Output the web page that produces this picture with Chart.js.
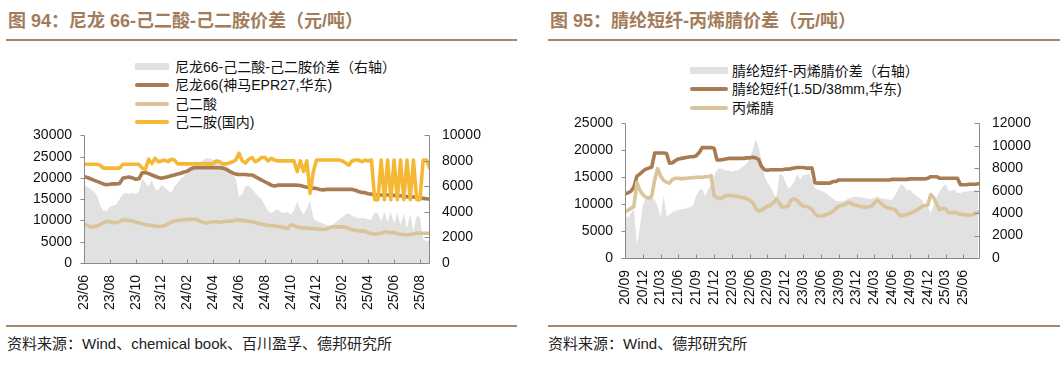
<!DOCTYPE html>
<html><head><meta charset="utf-8">
<script src="https://cdn.jsdelivr.net/npm/chart.js@4.4.1/dist/chart.umd.min.js"></script>
<style>
html,body{margin:0;padding:0;background:#fff;}
body{width:1063px;height:366px;position:relative;overflow:hidden;font-family:"Liberation Sans","Noto Sans CJK SC",sans-serif;}
.abs{position:absolute;white-space:nowrap;}
.title{font-size:18px;font-weight:bold;color:#a27c5b;line-height:22px;}
.rule{position:absolute;height:2px;background:#a88868;}
.leg{font-size:14px;color:#111;line-height:18px;}
.sw{position:absolute;}
.src{font-size:15px;color:#222;line-height:18px;}
canvas{position:absolute;}
</style></head>
<body>
<div class="abs title" style="left:8px;top:10px">图 94：尼龙 66-己二酸-己二胺价差（元/吨）</div>
<div class="rule" style="left:6px;top:39px;width:511px"></div>
<div class="abs title" style="left:550px;top:10px">图 95：腈纶短纤-丙烯腈价差（元/吨）</div>
<div class="rule" style="left:548px;top:39px;width:512px"></div>

<div class="sw" style="left:135px;top:63px;width:34px;height:7px;background:#e1e1e1"></div>
<div class="abs leg" style="left:175px;top:58px">尼龙66-己二酸-己二胺价差（右轴）</div>
<div class="sw" style="left:135px;top:83px;width:34px;height:4px;border-radius:2px;background:#a87c53"></div>
<div class="abs leg" style="left:175px;top:76px">尼龙66(神马EPR27,华东)</div>
<div class="sw" style="left:135px;top:102px;width:34px;height:4px;border-radius:2px;background:#d9c49b"></div>
<div class="abs leg" style="left:175px;top:95px">己二酸</div>
<div class="sw" style="left:135px;top:120px;width:34px;height:4px;border-radius:2px;background:#f5b835"></div>
<div class="abs leg" style="left:175px;top:113px">己二胺(国内)</div>

<div class="sw" style="left:690px;top:67px;width:38px;height:7px;background:#e1e1e1"></div>
<div class="abs leg" style="left:732px;top:62px">腈纶短纤-丙烯腈价差（右轴）</div>
<div class="sw" style="left:690px;top:87px;width:38px;height:4px;border-radius:2px;background:#a87c53"></div>
<div class="abs leg" style="left:732px;top:80px">腈纶短纤(1.5D/38mm,华东)</div>
<div class="sw" style="left:690px;top:106px;width:38px;height:4px;border-radius:2px;background:#d9c49b"></div>
<div class="abs leg" style="left:732px;top:99px">丙烯腈</div>

<canvas id="c1" width="520" height="205" style="left:0px;top:115px"></canvas>
<canvas id="c2" width="533" height="210" style="left:530px;top:103px"></canvas>

<div class="rule" style="left:6px;top:325px;width:511px"></div>
<div class="rule" style="left:548px;top:325px;width:512px"></div>
<div class="abs src" style="left:7px;top:335px">资料来源：Wind、chemical book、百川盈孚、德邦研究所</div>
<div class="abs src" style="left:548px;top:335px">资料来源：Wind、德邦研究所</div>

<script>
// ---------- Left chart (Figure 94): quarter-month samples from 23/06 ----------
const L_START = '23/06';
const L_STEP = 0.25; // months per sample
const L_TICKS = ['23/06','23/08','23/10','23/12','24/02','24/04','24/06','24/08','24/10','24/12','25/02','25/04','25/06','25/08'];
const nylon66 = [
  20300,20100,19800,19500, 19200,18900,18600,18400, 18500,18600,18600,18700,
  19900,20100,20200,20000, 19700,19800,21200,21300, 21000,20700,20400,20100,
  19900,20100,20300,20500, 20700,20900,21100,21400, 21600,22100,22400,22400,
  22400,22400,22400,22400, 22400,22400,22400,22300, 22000,21600,21200,20900,
  20800,20800,20800,20700, 20700,20300,19900,19500, 19100,18700,18300,18100,
  18300,18300,18300,18300, 18300,18300,18300,18200, 18000,17800,17700,17600,
  17500,17300,17200,17300, 17300,17300,17300,17300, 17300,17300,17300,17300,
  17100,16800,16600,16500, 16300,16200,16000,16000, 16000,16000,16000,16000,
  15900,15800,15800,15700, 15600,15600,15500,15400, 15300,15200,15100,15000
];
const adipicAcid = [
  9000,8800,8500,8500, 8700,9100,9500,9800, 9700,9500,9500,9800,
  10100,10100,10000,9900, 9600,9400,9200,9000, 8900,8800,8700,8600,
  8600,8800,9200,9600, 9900,10000,10100,10200, 10200,10300,10300,10200,
  9800,9500,9400,9600, 9700,9700,9600,9700, 9800,9800,9900,10100,
  10100,10000,9900,9800, 9700,9500,9300,9100, 9000,8800,8800,8700,
  8600,8500,8300,8100, 9000,8800,8500,8300, 8300,8200,8100,8100,
  8000,8000,7900,8000, 8300,8500,8500,8500, 8500,8400,8100,7800,
  7700,7600,7500,7500, 7100,6900,6800,6900, 7000,7300,7300,7100,
  7200,6900,6700,6700, 6600,6700,6800,7000, 7000,7000,7000,7000
];
const hmda = [
  23200,23200,23200,23200, 23200,23000,22300,22300, 22300,22300,22300,22300,
  23200,23200,23200,23200, 23200,23200,22300,22000, 24400,23400,24600,23800,
  24000,24200,23800,24400, 24200,23300,23300,23300, 23300,23300,23300,23300,
  23300,23300,23300,23300, 23300,24000,23800,23300, 23300,23500,23800,24200,
  25800,24000,23500,24400, 24800,23800,24200,24800, 24800,24000,24600,24200,
  24000,24000,24000,24000, 24000,24000,21500,24000, 21500,24000,16400,21500,
  24200,24200,24200,24200, 24200,24200,24200,24200, 24000,23500,23000,24000,
  24200,24200,23800,24200, 24000,24200,14900,14900, 24200,14900,24200,14900,
  24200,14900,24200,14900, 24200,14900,24200,14900, 14900,24200,24200,22300
];
const nylonSpread = [
  6100,6000,5800,5600, 5300,4500,4100,4100, 4400,4500,4600,5000,
  5400,5500,5400,5500, 5400,5600,6600,6300, 6000,6500,5800,5700,
  6100,5900,5700,5500, 6000,6300,6600,6800, 7200,7500,7600,7700,
  7900,8100,8200,8200, 8100,8000,7900,7800, 7600,7400,7000,6600,
  5200,5400,6000,6100, 5800,5500,5200,5000, 4500,4100,3900,4100,
  4200,4000,3900,4000, 3800,4100,4800,4200, 3800,4300,4900,3500,
  3300,3200,3100,3000, 2900,3000,3200,3400, 3600,3800,3900,3700,
  3600,3500,3500,3500, 3400,3400,4000,3900, 3300,4000,3200,4000,
  3100,3900,3000,3900, 2700,3800,2500,3700, 3600,1900,1700,1800
];

// ---------- Right chart (Figure 95): half-month samples from 20/09 ----------
const R_START = '20/09';
const R_STEP = 0.5;
const R_TICKS = ['20/09','20/12','21/03','21/06','21/09','21/12','22/03','22/06','22/09','22/12','23/03','23/06','23/09','23/12','24/03','24/06','24/09','24/12','25/03','25/06'];
const acrylicFiber = [
  11900,12100,12400,13200,15200,15600,16100,16500,16700,16900,19500,19500,
  19500,19500,19400,17600,17700,18100,18400,18500,18600,18700,18800,18800,
  19000,19600,20500,20500,20500,20500,20400,18200,18200,18300,18400,18500,
  18500,18500,18500,18500,18500,18600,18600,18700,18600,18300,17000,16400,
  16300,16400,16400,16400,16400,16400,16500,16500,16600,16700,16800,16800,
  16800,16700,16700,16700,14000,13900,13900,13900,13900,13900,14200,14200,
  14500,14500,14500,14500,14500,14500,14500,14500,14500,14500,14500,14500,
  14500,14500,14500,14500,14500,14500,14600,14600,14600,14600,14600,14600,
  14700,14700,14700,14700,14700,14700,14800,15100,15100,15100,14800,14800,
  14800,14800,14800,14800,14800,13600,13600,13600,13700,13700,13700,13800
];
const acrylonitrile = [
  8500,8900,9200,9600,14000,12600,11800,11300,11100,11500,14500,16600,
  15200,14400,14100,13900,14600,14800,14800,14700,14800,14800,14900,14900,
  15000,15000,15000,15100,15100,15300,11600,11200,11000,11300,11600,11600,
  11600,11500,11400,11300,11200,11000,10700,10300,9300,8700,8900,9300,
  9600,9800,10300,11000,10100,9400,9500,9700,10800,11000,10700,10100,
  9600,9600,9400,9000,8200,7800,7800,7900,8100,8300,8600,9200,
  9600,9800,9900,10300,10200,9900,9800,9600,9500,9400,9500,9600,
  10200,10700,10300,9800,9400,9300,9100,9000,8300,7800,8000,8100,
  8300,8500,8800,9200,9500,9800,9800,11800,11200,10000,9000,9200,
  9100,8400,8400,8500,8300,8100,8100,8000,8000,8000,8300,8500
];
const fiberSpread = [
  3850,3560,4000,4400,1200,2700,4700,5300,5500,5400,5200,4600,
  3600,5600,3700,3850,4100,4200,4300,4350,4400,4450,4550,4700,
  5600,6000,6200,5500,6100,6500,7300,7900,8000,7900,7800,7800,
  7700,7800,7800,8000,8200,8400,8800,9600,10600,9900,8700,7300,
  6700,6400,5800,5300,7500,7400,6800,6200,6400,6800,7500,7000,
  7400,7400,7500,6900,6200,6100,6000,5900,5700,5500,5300,5100,
  5050,5050,5100,5250,5350,5450,5450,5400,5400,5350,5300,5250,
  5400,5500,5350,5300,5250,5200,5200,5600,6100,6600,6400,6000,
  6100,5800,5600,5400,5200,4500,4600,4000,4800,5400,6000,6300,
  6600,6000,6000,6100,5800,5800,5900,5900,6000,6000,6100,5900
];

const C_GRAY = '#e1e1e1', C_BROWN = '#a87c53', C_TAN = '#d9c49b', C_ORANGE = '#f5b835';

function monthsBetween(a, b) {
  const [ya, ma] = a.split('/').map(Number);
  const [yb, mb] = b.split('/').map(Number);
  return (yb - ya) * 12 + (mb - ma);
}
function toPoints(values, step) { return values.map((v, i) => ({x: i * step, y: v})); }

Chart.defaults.font.family = '"Liberation Sans", Arial, sans-serif';
Chart.defaults.font.size = 14;
Chart.defaults.color = '#111';

const axesPlugin = {
  id: 'axesPlugin',
  afterDraw(chart) {
    const {ctx, chartArea: a, scales} = chart;
    ctx.save();
    ctx.strokeStyle = '#8a8a8a';
    ctx.lineWidth = 1;
    ctx.beginPath();
    const L = Math.round(a.left) + 0.5, R = Math.round(a.right) - 0.5, B = Math.round(a.bottom) + 0.5;
    ctx.moveTo(L, a.top); ctx.lineTo(L, B); ctx.lineTo(R, B); ctx.lineTo(R, a.top);
    scales.y.ticks.forEach(t => { const py = Math.round(scales.y.getPixelForValue(t.value)) + 0.5; ctx.moveTo(L - 4, py); ctx.lineTo(L, py); });
    scales.y2.ticks.forEach(t => { const py = Math.round(scales.y2.getPixelForValue(t.value)) + 0.5; ctx.moveTo(R - 5, py); ctx.lineTo(R, py); });
    scales.x.ticks.forEach(t => { const px = Math.round(scales.x.getPixelForValue(t.value)) + 0.5; ctx.moveTo(px, B); ctx.lineTo(px, B - 4); });
    ctx.stroke();
    ctx.restore();
  }
};

function lineDs(label, data, color, order) {
  return {label, data, borderColor: color, backgroundColor: color, borderWidth: 3.6, pointRadius: 0,
    tension: 0, fill: false, yAxisID: 'y', order, borderJoinStyle: 'round', borderCapStyle: 'round'};
}
function areaDs(label, data, order) {
  return {label, data, borderColor: C_GRAY, backgroundColor: C_GRAY, borderWidth: 0, pointRadius: 0,
    tension: 0, fill: 'origin', yAxisID: 'y2', order};
}

function makeChart(id, cfg) {
  const startLbl = cfg.start;
  return new Chart(document.getElementById(id), {
    type: 'line',
    data: {datasets: cfg.datasets},
    options: {
      responsive: false, animation: false, devicePixelRatio: 1,
      layout: {padding: {top: 0, left: 0, right: 0, bottom: 0}},
      plugins: {legend: {display: false}, tooltip: {enabled: false}},
      scales: {
        x: {type: 'linear', min: 0, max: cfg.xmax,
          grid: {display: false, drawTicks: false}, border: {display: false},
          afterBuildTicks: (s) => { s.ticks = cfg.ticks.map(l => ({value: monthsBetween(startLbl, l)})); },
          ticks: {autoSkip: false, minRotation: 90, maxRotation: 90, padding: 12,
            callback: (v, i) => cfg.ticks[i]},
          afterFit: (s) => { s.height = cfg.xh; }},
        y: {position: 'left', min: 0, max: cfg.ymax, grid: {display: false, drawTicks: false}, border: {display: false},
          ticks: {stepSize: cfg.ystep, autoSkip: false, maxTicksLimit: 20, padding: 12, callback: v => String(v)},
          afterFit: (s) => { s.width = cfg.yw; }},
        y2: {position: 'right', min: 0, max: cfg.y2max, grid: {display: false, drawTicks: false}, border: {display: false},
          ticks: {stepSize: cfg.y2step, autoSkip: false, maxTicksLimit: 20, padding: 12, callback: v => String(v)},
          afterFit: (s) => { s.width = cfg.y2w; }}
      }
    },
    plugins: [axesPlugin]
  });
}

makeChart('c1', {
  start: L_START, ticks: L_TICKS, xmax: 26.78, xh: 57, yw: 84, y2w: 90,
  ymax: 30000, ystep: 5000, y2max: 10000, y2step: 2000,
  datasets: [
    areaDs('尼龙66-己二酸-己二胺价差（右轴）', toPoints(nylonSpread, L_STEP), 10),
    lineDs('尼龙66(神马EPR27,华东)', toPoints(nylon66, L_STEP), C_BROWN, 3),
    lineDs('己二酸', toPoints(adipicAcid, L_STEP), C_TAN, 2),
    lineDs('己二胺(国内)', toPoints(hmda, L_STEP), C_ORANGE, 1)
  ]
});

makeChart('c2', {
  start: R_START, ticks: R_TICKS, xmax: 59.8, xh: 55, yw: 95, y2w: 83,
  ymax: 25000, ystep: 5000, y2max: 12000, y2step: 2000,
  datasets: [
    areaDs('腈纶短纤-丙烯腈价差（右轴）', toPoints(fiberSpread, R_STEP), 10),
    lineDs('腈纶短纤(1.5D/38mm,华东)', toPoints(acrylicFiber, R_STEP), C_BROWN, 2),
    lineDs('丙烯腈', toPoints(acrylonitrile, R_STEP), C_TAN, 1)
  ]
});
</script>
</body></html>
